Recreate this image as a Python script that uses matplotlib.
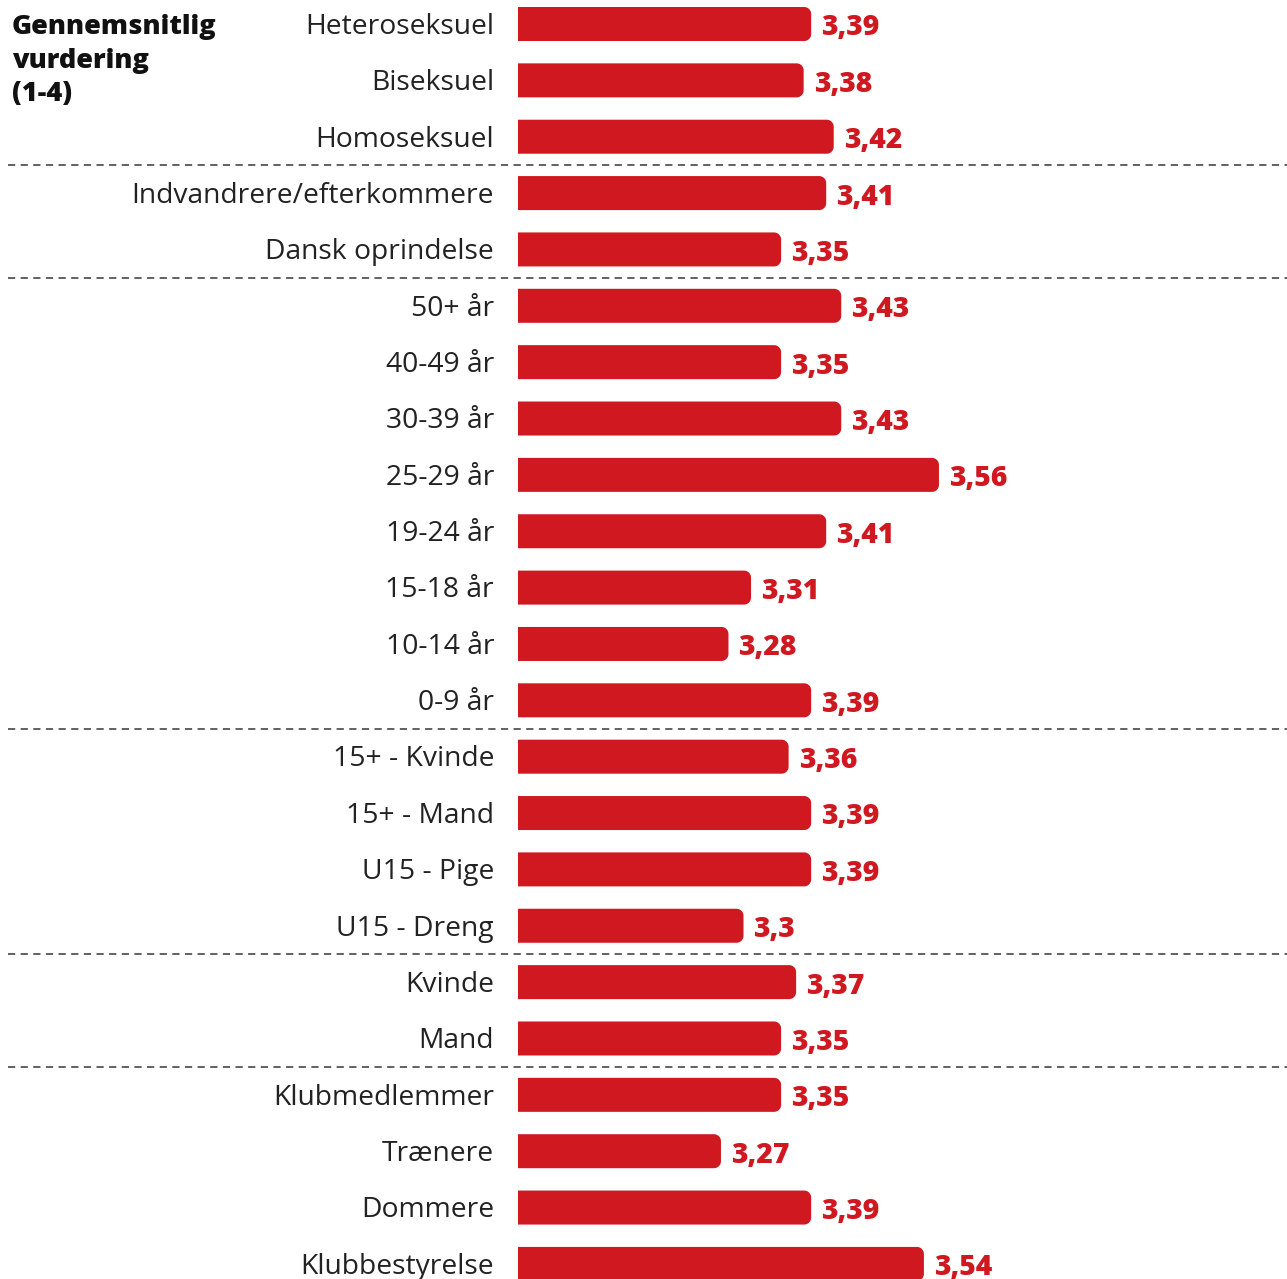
import numpy as np
import matplotlib.pyplot as plt
from matplotlib.patches import Polygon

# data
categories = ["Heteroseksuel", "Biseksuel", "Homoseksuel",
              "Indvandrere/efterkommere", "Dansk oprindelse",
              "50+ år", "40-49 år", "30-39 år", "25-29 år", "19-24 år",
              "15-18 år", "10-14 år", "0-9 år",
              "15+ - Kvinde", "15+ - Mand", "U15 - Pige", "U15 - Dreng",
              "Kvinde", "Mand",
              "Klubmedlemmer", "Trænere", "Dommere", "Klubbestyrelse"]
values = [3.39, 3.38, 3.42,
          3.41, 3.35,
          3.43, 3.35, 3.43, 3.56, 3.41, 3.31, 3.28, 3.39,
          3.36, 3.39, 3.39, 3.30,
          3.37, 3.35,
          3.35, 3.27, 3.39, 3.54]
value_labels = ["3,39", "3,38", "3,42", "3,41", "3,35", "3,43", "3,35", "3,43",
                "3,56", "3,41", "3,31", "3,28", "3,39", "3,36", "3,39", "3,39",
                "3,3", "3,37", "3,35", "3,35", "3,27", "3,39", "3,54"]
group_breaks = [2.5, 4.5, 12.5, 16.5, 18.5]
title = "Gennemsnitlig\nvurdering\n(1-4)"

RED = "#cf1820"
FONT = "Open Sans"

W, H = 1287, 1279
fig = plt.figure(figsize=(W / 100, H / 100), dpi=100)
ax = fig.add_axes([0, 0, 1, 1])

# map pixels -> data
px_x = 751.7       # px per value unit
px_y = 56.36       # px per row
base = 3.0
x_left = base - 518 / px_x
x_right = base + (W - 518) / px_x
ax.set_xlim(x_left, x_right)
ax.set_ylim((H - 24) / px_y, -24 / px_y)
ax.axis("off")

y = np.arange(len(categories))
bh = 34 / px_y
rx, ry = 7 / px_x, 7 / px_y
t = np.linspace(0, np.pi / 2, 12)


def bar_shape(v, yc):
    # square on the left, rounded on the right
    top, bot = yc - bh / 2, yc + bh / 2
    cx = v - rx
    upper = np.column_stack([cx + rx * np.sin(t), top + ry - ry * np.cos(t)])
    lower = np.column_stack([cx + rx * np.cos(t), bot - ry + ry * np.sin(t)])
    return np.vstack([[base, top], upper, lower, [base, bot]])


for yi, v in zip(y, values):
    ax.add_patch(Polygon(bar_shape(v, yi), closed=True, fc=RED, ec="none"))

for yi, v, lab, cat in zip(y, values, value_labels, categories):
    ax.text(v + 10 / px_x, yi + 0.07, lab, ha="left", va="center",
            fontsize=20.3, fontweight="heavy", color=RED, family=FONT)
    ax.text(base - 24 / px_x, yi + 0.05, cat, ha="right", va="center",
            fontsize=20.3, color="#222222", family=FONT)

for b in group_breaks:
    ax.plot([x_left + 8 / px_x, x_right], [b, b], color="#555555",
            lw=1.3, ls=(0, (4, 3)))

fig.text(12 / W, 1 - 14 / H, title, ha="left", va="top", fontsize=19.5,
         fontweight="heavy", color="#111111", family=FONT, linespacing=1.38)

fig.savefig("out.png", dpi=100)
